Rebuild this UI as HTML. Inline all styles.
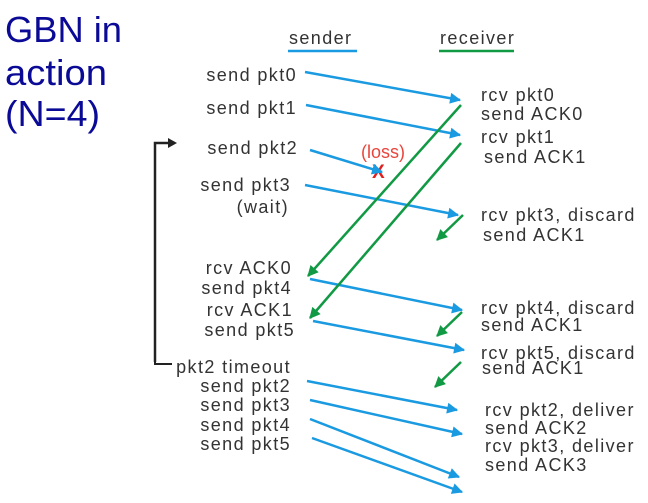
<!DOCTYPE html>
<html><head><meta charset="utf-8"><style>
html,body{margin:0;padding:0;background:#fff;}
svg{display:block;}
</style></head><body>
<svg width="648" height="503" viewBox="0 0 648 503" xmlns="http://www.w3.org/2000/svg">
<defs>
<marker id="b" viewBox="0 0 10 10" refX="9" refY="5" markerWidth="13" markerHeight="11" orient="auto" markerUnits="userSpaceOnUse"><path d="M0,0L10,5L0,10z" fill="#1a9ae0"/></marker>
<marker id="g" viewBox="0 0 10 10" refX="9" refY="5" markerWidth="13" markerHeight="11" orient="auto" markerUnits="userSpaceOnUse"><path d="M0,0L10,5L0,10z" fill="#119944"/></marker>
</defs>
<g font-family="Liberation Sans, sans-serif" fill="#0a0a96" font-size="36">
<text x="5" y="42" textLength="117" lengthAdjust="spacingAndGlyphs">GBN in</text>
<text x="5" y="85" textLength="102" lengthAdjust="spacingAndGlyphs">action</text>
<text x="5" y="126" textLength="95" lengthAdjust="spacingAndGlyphs">(N=4)</text>
</g>
<g font-family="Liberation Sans, sans-serif" font-size="18" fill="#333" letter-spacing="1.4">
<text x="289" y="44">sender</text>
<text x="440" y="44">receiver</text>
<g text-anchor="end">
<text x="297" y="81">send pkt0</text>
<text x="297" y="114">send pkt1</text>
<text x="298" y="154">send pkt2</text>
<text x="291" y="191">send pkt3</text>
<text x="289" y="213">(wait)</text>
<text x="292" y="274">rcv ACK0</text>
<text x="292" y="294">send pkt4</text>
<text x="293" y="316">rcv ACK1</text>
<text x="295" y="336">send pkt5</text>
<text x="291" y="373">pkt2 timeout</text>
<text x="291" y="392">send pkt2</text>
<text x="291" y="411">send pkt3</text>
<text x="291" y="431">send pkt4</text>
<text x="291" y="450">send pkt5</text>
</g>
<text x="481" y="101">rcv pkt0</text>
<text x="481" y="120">send ACK0</text>
<text x="481" y="143">rcv pkt1</text>
<text x="484" y="163">send ACK1</text>
<text x="481" y="221">rcv pkt3, discard</text>
<text x="483" y="241">send ACK1</text>
<text x="481" y="314">rcv pkt4, discard</text>
<text x="481" y="331">send ACK1</text>
<text x="481" y="359">rcv pkt5, discard</text>
<text x="482" y="374">send ACK1</text>
<text x="485" y="416">rcv pkt2, deliver</text>
<text x="485" y="434">send ACK2</text>
<text x="485" y="452">rcv pkt3, deliver</text>
<text x="485" y="471">send ACK3</text>
<text x="361" y="158" fill="#e8453c" letter-spacing="0">(loss)</text>
<text x="372" y="178" fill="#e02020" font-weight="bold" font-size="19" letter-spacing="0">X</text>
</g>
<line x1="288" y1="51" x2="357" y2="51" stroke="#1a9ae0" stroke-width="2.5"/>
<line x1="439" y1="51" x2="514" y2="51" stroke="#119944" stroke-width="2.5"/>
<path d="M155,362V143H170" fill="none" stroke="#222" stroke-width="2.5"/>
<path d="M168,138L177,143L168,148z" fill="#222"/>
<path d="M155,361V364H172" fill="none" stroke="#222" stroke-width="2"/>
<g stroke="#1a9ae0" stroke-width="2.5" marker-end="url(#b)">
<line x1="305" y1="72" x2="460" y2="100"/>
<line x1="306" y1="105" x2="460" y2="135"/>
<line x1="310" y1="150" x2="382" y2="172"/>
<line x1="305" y1="185" x2="458" y2="215"/>
<line x1="310" y1="279" x2="462" y2="310"/>
<line x1="313" y1="321" x2="464" y2="350"/>
<line x1="307" y1="381" x2="457" y2="410"/>
<line x1="310" y1="400" x2="462" y2="434"/>
<line x1="310" y1="419" x2="459" y2="477"/>
<line x1="312" y1="438" x2="462" y2="492"/>
</g>
<g stroke="#119944" stroke-width="2.5" marker-end="url(#g)">
<line x1="461" y1="105" x2="308" y2="276"/>
<line x1="461" y1="143" x2="310" y2="318"/>
<line x1="463" y1="215" x2="437" y2="240"/>
<line x1="462" y1="312" x2="437" y2="336"/>
<line x1="461" y1="362" x2="435" y2="387"/>
</g>
</svg>
</body></html>
